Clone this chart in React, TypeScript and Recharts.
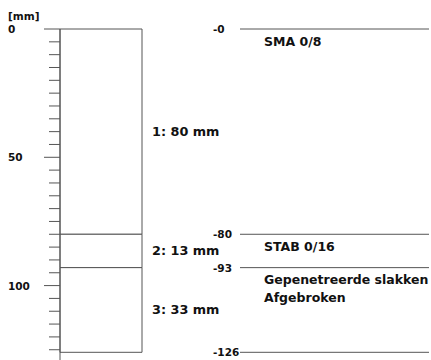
import { BarChart, Bar, XAxis, YAxis, ReferenceLine, LabelList, Label } from "recharts";

// layer build-up of the core, top to bottom
const layerKeys = ["l1", "l2", "l3"];
const layerThickness = [80, 13, 33];
const layerNames = [["SMA 0/8"], ["STAB 0/16"], ["Gepenetreerde slakken", "Afgebroken"]];
const depthTicks = [0, 5, 10, 15, 20, 25, 30, 35, 40, 45, 50, 55, 60, 65, 70, 75, 80, 85, 90, 95, 100, 105, 110, 115, 120, 125];
const majorTicks = [0, 50, 100];

const FONT = "'DejaVu Sans', Verdana, sans-serif";
const LINE = "#555";

// cumulative boundaries: 0, 80, 93, 126
const boundaries = layerThickness.reduce((acc, t) => [...acc, acc[acc.length - 1] + t], [0]);

const row: any = { pos: 41 };
layerKeys.forEach((k, i) => (row[k] = layerThickness[i]));
const data = [row];

function DepthTick({ x, y, payload }: any) {
  const major = majorTicks.includes(payload.value);
  const len = major ? 16 : 11;
  return (
    <g>
      <line x1={x - len} y1={y} x2={x} y2={y} stroke={LINE} strokeWidth={1} />
      {major && (
        <text x={8} y={y} dominantBaseline="central" fontFamily={FONT} fontWeight="bold" fontSize={10.5} fill="#111">
          {payload.value}
        </text>
      )}
    </g>
  );
}

function makeLayerLabel(i: number) {
  return (props: any) => {
    const { x, y, width, height } = props;
    const right = x + width;
    // axis is reversed, so height can be negative
    const top = Math.min(y, y + height);
    return (
      <g fontFamily={FONT} fontWeight="bold" fill="#111">
        <text x={right + 10} y={y + height / 2} dominantBaseline="central" fontSize={12.8}>
          {`${i + 1}: ${layerThickness[i]} mm`}
        </text>
        {layerNames[i].map((line, j) => (
          <text key={j} x={right + 122} y={top + 12 + j * 18} dominantBaseline="central" fontSize={12.5}>
            {line}
          </text>
        ))}
      </g>
    );
  };
}

export default function App() {
  return (
    <div style={{ position: "absolute", left: 0, top: 0, width: 431, height: 360, background: "#fff" }}>
      <BarChart width={431} height={360} data={data} margin={{ top: 29, right: 2, bottom: 0, left: 0 }}>
        <XAxis type="number" dataKey="pos" domain={[0, 369]} hide />
        <YAxis
          type="number"
          domain={[0, 129]}
          reversed
          width={60}
          ticks={depthTicks}
          interval={0}
          tickSize={0}
          tickMargin={0}
          tickLine={false}
          tick={<DepthTick />}
          axisLine={{ stroke: LINE, strokeWidth: 1 }}
        >
          <Label
            content={(p: any) => (
              <text x={8} y={p.viewBox.y - 13} dominantBaseline="central" fontFamily={FONT} fontWeight="bold" fontSize={10.5} fill="#111">
                [mm]
              </text>
            )}
          />
        </YAxis>
        {layerKeys.map((k, i) => (
          <Bar key={k} dataKey={k} stackId="core" barSize={82} fill="#fff" stroke={LINE} strokeWidth={1} isAnimationActive={false}>
            <LabelList content={makeLayerLabel(i)} />
          </Bar>
        ))}
        {boundaries.map((d) => (
          <ReferenceLine
            key={d}
            segment={[{ x: 180, y: d }, { x: 369, y: d }]}
            stroke={LINE}
            strokeWidth={1}
            label={(p: any) => (
              <text x={p.viewBox.x - 27} y={p.viewBox.y} dominantBaseline="central" fontFamily={FONT} fontWeight="bold" fontSize={10.5} fill="#111">
                {`-${d}`}
              </text>
            )}
          />
        ))}
      </BarChart>
    </div>
  );
}
